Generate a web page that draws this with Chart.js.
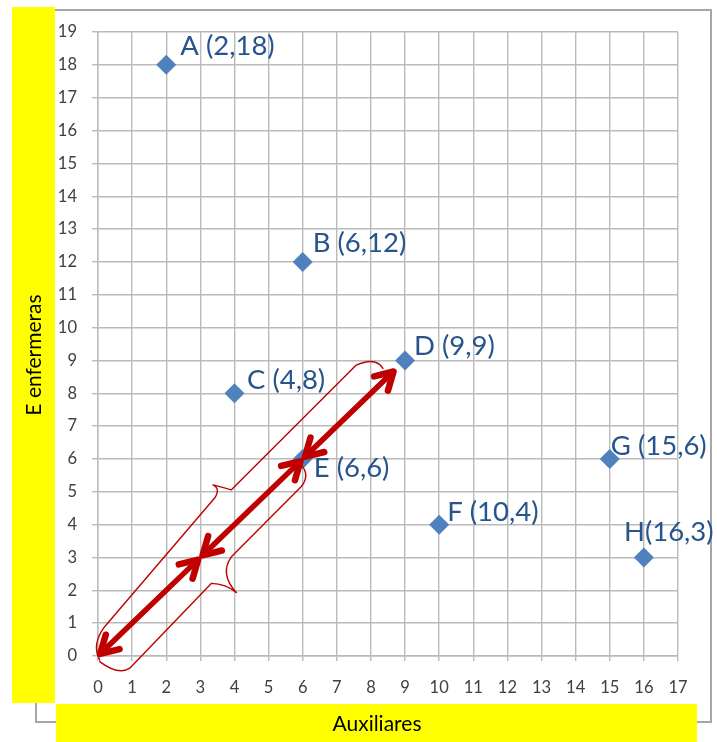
<!DOCTYPE html>
<html>
<head>
<meta charset="utf-8">
<title>Auxiliares / E enfermeras</title>
<script src="https://cdn.jsdelivr.net/npm/chart.js@4.4.1/dist/chart.umd.min.js"></script>
<style>
  html, body { margin: 0; padding: 0; background: #ffffff; }
  canvas { display: block; }
</style>
</head>
<body>
<canvas id="chart" width="717" height="742"></canvas>
<script>
// Scatter data: auxiliares (x) vs enfermeras (y)
const pointNames = ['A', 'B', 'C', 'D', 'E', 'F', 'G', 'H'];
const auxiliares = [2, 6, 4, 9, 6, 10, 15, 16];
const enfermeras = [18, 12, 8, 9, 6, 4, 6, 3];
const nameGap = [' ', ' ', ' ', ' ', ' ', ' ', ' ', ''];

// Axis ranges and titles
const xRange = [0, 17];
const yRange = [0, 19];
const xTitle = 'Auxiliares';
const yTitle = 'E enfermeras';

// Double-headed arrows chained along the diagonal, in data units
const arrowStops = [[0, 0], [3, 3], [6, 6], [9, 9]];

// Brace outlines around the arrows, in data units
const braceUpper = [
  ['M', 8.35, 8.76], ['Q', 8.15, 9.12, 7.57, 8.86], ['L', 3.91, 5.06],
  ['Q', 3.6, 5.15, 3.37, 5.21], ['Q', 3.6, 5.1, 3.42, 4.81],
  ['L', 0.2, 0.9], ['Q', -0.2, 0.35, 0.05, -0.12]
];
const braceLower = [
  ['M', 5.96, 5.82], ['Q', 6.22, 5.5, 5.96, 5.16], ['L', 3.91, 3.02],
  ['Q', 3.55, 2.5, 4.06, 1.93], ['Q', 3.75, 2.2, 3.32, 2.21],
  ['L', 0.93, -0.37], ['Q', 0.6, -0.6, 0.05, -0.17]
];

const points = auxiliares.map((x, i) => ({ x: x, y: enfermeras[i] }));
const tagText = i => pointNames[i] + nameGap[i] + '(' + auxiliares[i] + ',' + enfermeras[i] + ')';

// Label placement relative to each marker (px): [dx, baseline dy]
const tagOffsets = [[14, -10], [10, -9.5], [12.5, -4.5], [9, -5], [11, 18.5], [8, -4], [1, -3.5], [-20, -16]];

const RED = '#c00000';
const GRID = '#bababa';

const frameBands = {
  id: 'frameBands',
  beforeDraw(chart) {
    const ctx = chart.ctx;
    ctx.save();
    ctx.fillStyle = '#ffffff';
    ctx.fillRect(0, 0, chart.width, chart.height);
    // outer chart border
    ctx.strokeStyle = '#a6a6a6';
    ctx.lineWidth = 2;
    ctx.strokeRect(36, 10, 675, 712);
    // yellow title bands
    ctx.fillStyle = '#ffff00';
    ctx.fillRect(12, 7, 43, 696);
    ctx.fillRect(56, 704, 641, 38);
    // axis titles
    ctx.fillStyle = '#000000';
    ctx.font = '21px Lato';
    ctx.textAlign = 'center';
    ctx.textBaseline = 'middle';
    ctx.fillText(xTitle, 377, 724);
    ctx.translate(34, 355);
    ctx.rotate(-Math.PI / 2);
    ctx.fillText(yTitle, 0, 0);
    ctx.restore();
  }
};

function toPx(chart, x, y) {
  return { x: chart.scales.x.getPixelForValue(x), y: chart.scales.y.getPixelForValue(y) };
}

function tracePath(ctx, chart, cmds) {
  ctx.beginPath();
  cmds.forEach(c => {
    if (c[0] === 'M') { const p = toPx(chart, c[1], c[2]); ctx.moveTo(p.x, p.y); }
    else if (c[0] === 'L') { const p = toPx(chart, c[1], c[2]); ctx.lineTo(p.x, p.y); }
    else if (c[0] === 'Q') {
      const k = toPx(chart, c[1], c[2]);
      const p = toPx(chart, c[3], c[4]);
      ctx.quadraticCurveTo(k.x, k.y, p.x, p.y);
    }
  });
  ctx.stroke();
}

function arrowHead(ctx, tip, ang) {
  const L = 20, spread = 0.52;
  ctx.beginPath();
  ctx.moveTo(tip.x - L * Math.cos(ang - spread), tip.y - L * Math.sin(ang - spread));
  ctx.lineTo(tip.x, tip.y);
  ctx.lineTo(tip.x - L * Math.cos(ang + spread), tip.y - L * Math.sin(ang + spread));
  ctx.stroke();
}

function doubleArrow(ctx, a, b, insetA, insetB) {
  const ang = Math.atan2(b.y - a.y, b.x - a.x);
  const pa = { x: a.x + insetA * Math.cos(ang), y: a.y + insetA * Math.sin(ang) };
  const pb = { x: b.x - insetB * Math.cos(ang), y: b.y - insetB * Math.sin(ang) };
  ctx.lineWidth = 5.5;
  ctx.beginPath();
  ctx.moveTo(pa.x + 3 * Math.cos(ang), pa.y + 3 * Math.sin(ang));
  ctx.lineTo(pb.x - 3 * Math.cos(ang), pb.y - 3 * Math.sin(ang));
  ctx.stroke();
  ctx.lineWidth = 6.5;
  arrowHead(ctx, pb, ang);
  arrowHead(ctx, pa, ang + Math.PI);
}

const annotations = {
  id: 'annotations',
  afterDatasetsDraw(chart) {
    const ctx = chart.ctx;
    ctx.save();
    ctx.strokeStyle = RED;
    ctx.lineCap = 'round';
    ctx.lineJoin = 'round';
    ctx.lineWidth = 1.4;
    tracePath(ctx, chart, braceUpper);
    tracePath(ctx, chart, braceLower);
    for (let i = 0; i < arrowStops.length - 1; i++) {
      const a = toPx(chart, arrowStops[i][0], arrowStops[i][1]);
      const b = toPx(chart, arrowStops[i + 1][0], arrowStops[i + 1][1]);
      const last = i === arrowStops.length - 2;
      doubleArrow(ctx, a, b, 3, last ? 16 : 3);
    }
    // point tags
    const meta = chart.getDatasetMeta(0);
    ctx.font = '27.5px Lato';
    ctx.fillStyle = '#26548c';
    ctx.textAlign = 'left';
    ctx.textBaseline = 'alphabetic';
    meta.data.forEach((el, i) => {
      ctx.fillText(tagText(i), el.x + tagOffsets[i][0], el.y + tagOffsets[i][1]);
    });
    ctx.restore();
  }
};

Chart.defaults.font.family = 'Lato';

new Chart(document.getElementById('chart'), {
  type: 'scatter',
  data: {
    datasets: [{
      data: points,
      pointStyle: 'rectRot',
      pointRadius: 10,
      pointHoverRadius: 10,
      backgroundColor: '#4f81bd',
      borderColor: '#4f81bd',
      borderWidth: 0
    }]
  },
  options: {
    responsive: false,
    devicePixelRatio: 1,
    animation: false,
    layout: { padding: { top: 32, right: 39, bottom: 0, left: 0 } },
    plugins: { legend: { display: false }, tooltip: { enabled: false } },
    scales: {
      x: {
        type: 'linear',
        min: xRange[0],
        max: xRange[1],
        afterFit(s) { s.height = 86; },
        ticks: { stepSize: 1, color: '#404040', font: { size: 16.5 }, padding: 17 },
        grid: { color: GRID, lineWidth: 1.4, tickLength: 5 },
        border: { color: GRID, width: 1.4 }
      },
      y: {
        type: 'linear',
        min: yRange[0],
        max: yRange[1],
        afterFit(s) { s.width = 98; },
        ticks: { stepSize: 1, color: '#404040', font: { size: 16.5 }, padding: 15 },
        grid: { color: GRID, lineWidth: 1.4, tickLength: 6 },
        border: { color: GRID, width: 1.4 }
      }
    }
  },
  plugins: [frameBands, annotations]
});
</script>
</body>
</html>
